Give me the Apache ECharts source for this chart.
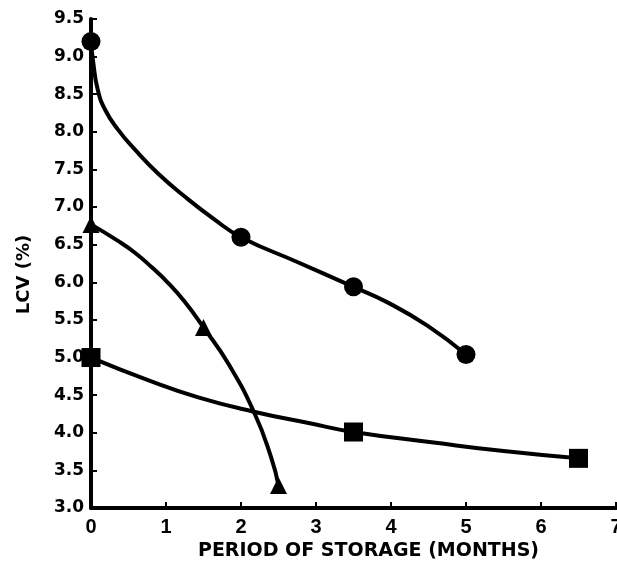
<!DOCTYPE html>
<html>
<head>
<meta charset="utf-8">
<script src="https://cdn.jsdelivr.net/npm/echarts@6/dist/echarts.min.js"></script>
<style>
html,body{margin:0;padding:0;background:#fff;}
#chart{width:617px;height:570px;}
</style>
</head>
<body>
<div id="chart"></div>
<script>
// Tick labels
var xTicks = [0, 1, 2, 3, 4, 5, 6, 7];
var yTicks = ['3.0','3.5','4.0','4.5','5.0','5.5','6.0','6.5','7.0','7.5','8.0','8.5','9.0','9.5'];

// Measured points (months, LCV %)
var circlePoints = [[0, 9.2], [2, 6.6], [3.5, 5.94], [5, 5.04]];
var trianglePoints = [[0, 6.77], [1.5, 5.4], [2.5, 3.3]];
var squarePoints = [[0, 5.0], [3.5, 4.01], [6.5, 3.66]];

// Fitted curves
var circleCurve = [[0, 9.2], [0.03, 8.92], [0.09, 8.56], [0.19, 8.29], [0.36, 8.03], [0.59, 7.76], [0.89, 7.45], [1.25, 7.14], [1.64, 6.84], [2, 6.6], [2.75, 6.27], [3.5, 5.94], [3.96, 5.73], [4.49, 5.42], [5, 5.04]];
var triangleCurve = [[0, 6.77], [0.36, 6.55], [0.59, 6.39], [0.81, 6.2], [1.03, 5.99], [1.25, 5.74], [1.5, 5.4], [1.83, 4.92], [2.18, 4.26], [2.4, 3.68], [2.5, 3.3]];
var squareCurve = [[0, 5.0], [0.76, 4.7], [1.43, 4.47], [2.17, 4.28], [2.9, 4.13], [3.5, 4.01], [4.57, 3.87], [5.47, 3.76], [6.5, 3.66]];

var chart = echarts.init(document.getElementById('chart'), null, {renderer: 'canvas'});

function curveSeries(data) {
  return {
    type: 'line', data: data, smooth: 0.5, showSymbol: false, symbol: 'none',
    lineStyle: {color: '#000', width: 4}, silent: true, z: 2, animation: false
  };
}
function markerSeries(data, symbol, size) {
  return {
    type: 'scatter', data: data, symbol: symbol, symbolSize: size,
    itemStyle: {color: '#000', opacity: 1}, z: 3, animation: false, silent: true
  };
}

chart.setOption({
  animation: false,
  backgroundColor: '#fff',
  grid: {left: 91, right: 1, top: 19, bottom: 62, containLabel: false, outerBoundsMode: 'none'},
  xAxis: {
    type: 'value', min: 0, max: 7, interval: 1,
    name: 'PERIOD OF STORAGE (MONTHS)', nameLocation: 'middle', nameGap: 33,
    nameTextStyle: {fontFamily: 'DejaVu Sans', fontWeight: 'bold', fontSize: 19, color: '#000', padding: [0, 0, 0, 30]},
    axisLine: {show: true, onZero: false, lineStyle: {color: '#000', width: 4}},
    axisTick: {show: true, inside: true, length: 6, lineStyle: {color: '#000', width: 2}},
    axisLabel: {
      margin: 9, color: '#000', fontFamily: 'Liberation Sans', fontWeight: 'bold', fontSize: 20,
      showMaxLabel: true, formatter: function (v) { return String(xTicks[Math.round(v)]); }
    },
    splitLine: {show: false}
  },
  yAxis: {
    type: 'value', min: 3, max: 9.5, interval: 0.5,
    name: 'LCV (%)', nameLocation: 'middle', nameGap: 58,
    nameTextStyle: {fontFamily: 'DejaVu Sans', fontWeight: 'bold', fontSize: 18, color: '#000', padding: [0, 22, 0, 0]},
    axisLine: {show: true, onZero: false, lineStyle: {color: '#000', width: 4}},
    axisTick: {show: true, inside: true, length: 6, lineStyle: {color: '#000', width: 2}},
    axisLabel: {
      margin: 7, color: '#000', fontFamily: 'DejaVu Sans', fontWeight: 'bold', fontSize: 17,
      formatter: function (v) { return yTicks[Math.round((v - 3) / 0.5)]; }
    },
    splitLine: {show: false}
  },
  series: [
    curveSeries(circleCurve),
    curveSeries(triangleCurve),
    curveSeries(squareCurve),
    markerSeries(circlePoints, 'circle', 19),
    markerSeries(trianglePoints, 'triangle', 17),
    markerSeries(squarePoints, 'rect', 19)
  ]
});
</script>
</body>
</html>
